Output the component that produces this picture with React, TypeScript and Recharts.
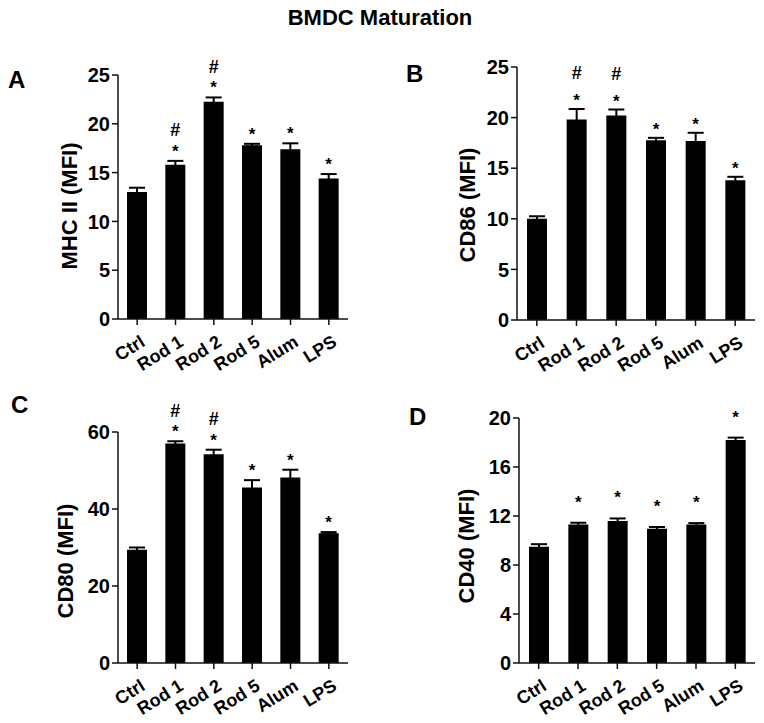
import React from 'react';
import { BarChart, Bar, XAxis, YAxis, ErrorBar, LabelList } from 'recharts';

const categories = ['Ctrl', 'Rod 1', 'Rod 2', 'Rod 5', 'Alum', 'LPS'];

const mhcMean = [13.0, 15.8, 22.25, 17.8, 17.4, 14.4];
const mhcErr = [0.45, 0.4, 0.45, 0.15, 0.6, 0.45];
const mhcStar = [false, true, true, true, true, true];
const mhcHash = [false, true, true, false, false, false];
const mhcTicks = [0, 5, 10, 15, 20, 25];

const cd86Mean = [10.0, 19.8, 20.2, 17.75, 17.7, 13.8];
const cd86Err = [0.25, 1.05, 0.6, 0.25, 0.8, 0.35];
const cd86Star = [false, true, true, true, true, true];
const cd86Hash = [false, true, true, false, false, false];
const cd86Ticks = [0, 5, 10, 15, 20, 25];

const cd80Mean = [29.4, 57.0, 54.2, 45.6, 48.2, 33.7];
const cd80Err = [0.6, 0.6, 1.2, 1.9, 2.0, 0.3];
const cd80Star = [false, true, true, true, true, true];
const cd80Hash = [false, true, true, false, false, false];
const cd80Ticks = [0, 20, 40, 60];

const cd40Mean = [9.5, 11.3, 11.6, 10.95, 11.3, 18.2];
const cd40Err = [0.2, 0.15, 0.2, 0.15, 0.12, 0.2];
const cd40Star = [false, true, true, true, true, true];
const cd40Hash = [false, false, false, false, false, false];
const cd40Ticks = [0, 4, 8, 12, 16, 20];

const FONT = '"Liberation Sans", Arial, Helvetica, sans-serif';

type PanelProps = {
  mean: number[];
  err: number[];
  star: boolean[];
  hash: boolean[];
  ticks: number[];
  yLabel: string;
  box: { left: number; top: number; width: number; height: number };
  plot: { left: number; top: number; right: number; bottom: number };
  labelPos: { x: number; y: number };
  starGap: number;
  hashGap: number;
};

const XTick = (props: any) => {
  const { x, y, payload } = props;
  const ax = x + 9;
  const ay = y + 18;
  return (
    <text
      x={ax}
      y={ay}
      transform={`rotate(-32 ${ax} ${ay})`}
      textAnchor="end"
      fontFamily={FONT}
      fontWeight="bold"
      fontSize={18}
      fill="#000"
    >
      {payload.value}
    </text>
  );
};

const Panel = (p: PanelProps) => {
  const data = categories.map((c, i) => ({
    name: c,
    value: p.mean[i],
    err: p.err[i],
  }));
  const yAxisW = 60;
  const xAxisH = 50;
  const margin = {
    top: p.plot.top - p.box.top,
    right: p.box.left + p.box.width - p.plot.right,
    left: p.plot.left - p.box.left - yAxisW,
    bottom: p.box.top + p.box.height - p.plot.bottom - xAxisH,
  };
  const lx = p.labelPos.x - p.box.left;
  const ly = p.labelPos.y - p.box.top;

  const annot = (props: any) => {
    const { x, y, width, height, index, value } = props;
    const px = height / value;
    const errTop = y - p.err[index] * px;
    const cx = x + width / 2;
    const starC = errTop - p.starGap;
    const hashC = starC - p.hashGap;
    return (
      <g>
        {p.star[index] && (
          <text x={cx} y={starC + 10} textAnchor="middle" fontFamily={FONT} fontWeight="bold" fontSize={17} fill="#000">
            *
          </text>
        )}
        {p.hash[index] && (
          <text x={cx} y={hashC + 6.5} textAnchor="middle" fontFamily={FONT} fontWeight="bold" fontSize={18} fill="#000">
            #
          </text>
        )}
      </g>
    );
  };

  return (
    <div style={{ position: 'absolute', left: p.box.left, top: p.box.top }}>
      <BarChart width={p.box.width} height={p.box.height} data={data} margin={margin} barCategoryGap={0}>
        <XAxis
          dataKey="name"
          height={xAxisH}
          interval={0}
          tick={<XTick />}
          tickSize={6}
          tickMargin={2}
          stroke="#111"
          strokeWidth={1.5}
          tickLine={{ stroke: '#111', strokeWidth: 1.5 }}
        />
        <YAxis
          width={yAxisW}
          domain={[p.ticks[0], p.ticks[p.ticks.length - 1]]}
          ticks={p.ticks}
          interval={0}
          tickSize={6}
          tickMargin={2}
          stroke="#111"
          strokeWidth={1.5}
          tickLine={{ stroke: '#111', strokeWidth: 1.5 }}
          tick={{ fill: '#000', fontFamily: FONT, fontWeight: 'bold', fontSize: 20 }}
          label={{
            content: () => (
              <text
                x={lx}
                y={ly}
                transform={`rotate(-90 ${lx} ${ly})`}
                textAnchor="middle"
                fontFamily={FONT}
                fontWeight="bold"
                fontSize={22}
                fill="#000"
              >
                {p.yLabel}
              </text>
            ),
          }}
        />
        <Bar dataKey="value" fill="#000" barSize={20} isAnimationActive={false}>
          <ErrorBar dataKey="err" width={8} stroke="#000" strokeWidth={2} direction="y" />
          <LabelList dataKey="value" content={annot} />
        </Bar>
      </BarChart>
    </div>
  );
};

export default function App() {
  return (
    <div style={{ position: 'absolute', left: 0, top: 0, width: 764, height: 723, background: '#fff' }}>
      <svg width={764} height={723} style={{ position: 'absolute', left: 0, top: 0 }}>
        <text x={380} y={25} textAnchor="middle" fontFamily={FONT} fontWeight="bold" fontSize={22} fill="#000">
          BMDC Maturation
        </text>
        <text x={8} y={88} fontFamily={FONT} fontWeight="bold" fontSize={24} fill="#000">A</text>
        <text x={406} y={82} fontFamily={FONT} fontWeight="bold" fontSize={24} fill="#000">B</text>
        <text x={11} y={413} fontFamily={FONT} fontWeight="bold" fontSize={24} fill="#000">C</text>
        <text x={409} y={425} fontFamily={FONT} fontWeight="bold" fontSize={24} fill="#000">D</text>
      </svg>
      <Panel
        mean={mhcMean} err={mhcErr} star={mhcStar} hash={mhcHash} ticks={mhcTicks}
        yLabel="MHC II (MFI)"
        box={{ left: 0, top: 40, width: 380, height: 340 }}
        plot={{ left: 118, top: 75, right: 348, bottom: 319 }}
        labelPos={{ x: 77, y: 206 }}
        starGap={14} hashGap={17}
      />
      <Panel
        mean={cd86Mean} err={cd86Err} star={cd86Star} hash={cd86Hash} ticks={cd86Ticks}
        yLabel="CD86 (MFI)"
        box={{ left: 380, top: 40, width: 384, height: 340 }}
        plot={{ left: 517, top: 67, right: 755, bottom: 320 }}
        labelPos={{ x: 475, y: 205 }}
        starGap={13} hashGap={23}
      />
      <Panel
        mean={cd80Mean} err={cd80Err} star={cd80Star} hash={cd80Hash} ticks={cd80Ticks}
        yLabel="CD80 (MFI)"
        box={{ left: 0, top: 380, width: 380, height: 343 }}
        plot={{ left: 118, top: 432, right: 348, bottom: 663 }}
        labelPos={{ x: 73, y: 561 }}
        starGap={14} hashGap={17}
      />
      <Panel
        mean={cd40Mean} err={cd40Err} star={cd40Star} hash={cd40Hash} ticks={cd40Ticks}
        yLabel="CD40 (MFI)"
        box={{ left: 380, top: 380, width: 384, height: 343 }}
        plot={{ left: 519, top: 418, right: 755, bottom: 663 }}
        labelPos={{ x: 474, y: 546 }}
        starGap={25} hashGap={17}
      />
    </div>
  );
}
